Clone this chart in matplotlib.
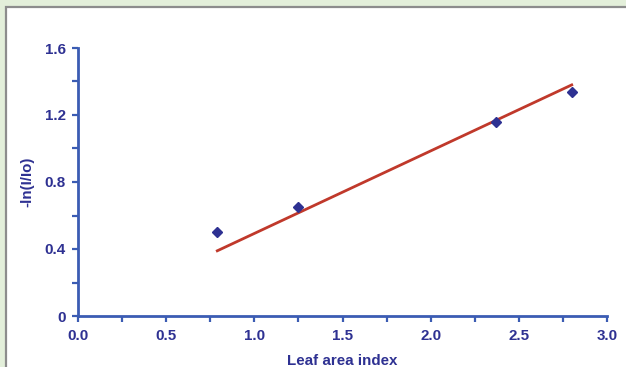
import numpy as np
import matplotlib
matplotlib.use("Agg")
import matplotlib.pyplot as plt
from matplotlib.patches import Rectangle
from matplotlib.ticker import MultipleLocator

plt.rcParams['font.family'] = ['Liberation Sans', 'DejaVu Sans']

# Measured canopy data
lai = np.array([0.79, 1.25, 2.37, 2.80])
extinction = np.array([0.50, 0.65, 1.16, 1.34])

x_ticks = [0.0, 0.5, 1.0, 1.5, 2.0, 2.5, 3.0]
x_tick_labels = ["0.0", "0.5", "1.0", "1.5", "2.0", "2.5", "3.0"]
y_ticks = [0, 0.4, 0.8, 1.2, 1.6]
y_tick_labels = ["0", "0.4", "0.8", "1.2", "1.6"]

# Least-squares slope through the origin (Beer's law: -ln(I/Io) = k * LAI)
k = np.linalg.lstsq(lai[:, None], extinction, rcond=None)[0][0]
fit_x = np.array([lai.min(), lai.max()])
fit_y = k * fit_x

axis_blue = "#3b5cb3"
text_blue = "#2e3192"
line_red = "#c0392b"
font_size = 10.9

fig = plt.figure(figsize=(6.26, 3.67), dpi=100)
fig.patch.set_facecolor("#e3efda")
panel = Rectangle((6 / 626, -0.1), 1.2, 1.1 - 7 / 367, transform=fig.transFigure,
                  facecolor="white", edgecolor="#8c8c8c", linewidth=1.6, zorder=-5)
fig.patches.append(panel)

ax = fig.add_axes([78 / 626, 1 - 316 / 367, (607 - 78) / 626, (316 - 48) / 367])
ax.set_zorder(2)
ax.set_facecolor("none")

ax.plot(fit_x, fit_y, color=line_red, linewidth=2.0, zorder=2)
ax.plot(lai, extinction, linestyle="none", marker="D", markersize=5,
        color=text_blue, zorder=3)

ax.set_xlim(0, 3.0)
ax.set_ylim(0, 1.6)
ax.set_xticks(x_ticks)
ax.set_xticklabels(x_tick_labels)
ax.set_yticks(y_ticks)
ax.set_yticklabels(y_tick_labels)
ax.xaxis.set_minor_locator(MultipleLocator(0.25))
ax.yaxis.set_minor_locator(MultipleLocator(0.2))

for side in ("top", "right"):
    ax.spines[side].set_visible(False)
for side in ("left", "bottom"):
    ax.spines[side].set_color(axis_blue)
    ax.spines[side].set_linewidth(2.0)

ax.tick_params(which="both", direction="out", color=axis_blue, width=1.6)
ax.tick_params(which="major", length=4)
ax.tick_params(which="minor", length=4)
ax.tick_params(axis="x", which="major", pad=5)
ax.tick_params(axis="y", which="major", pad=5)
for lbl in ax.get_xticklabels() + ax.get_yticklabels():
    lbl.set_fontsize(font_size)
    lbl.set_fontweight("bold")
    lbl.set_color(text_blue)

ax.set_xlabel("Leaf area index", fontsize=font_size, fontweight="bold", color=text_blue, labelpad=8)
ax.set_ylabel("-ln(I/Io)", fontsize=font_size, fontweight="bold", color=text_blue, labelpad=7)

fig.savefig("out.png", dpi=100, facecolor=fig.get_facecolor())
